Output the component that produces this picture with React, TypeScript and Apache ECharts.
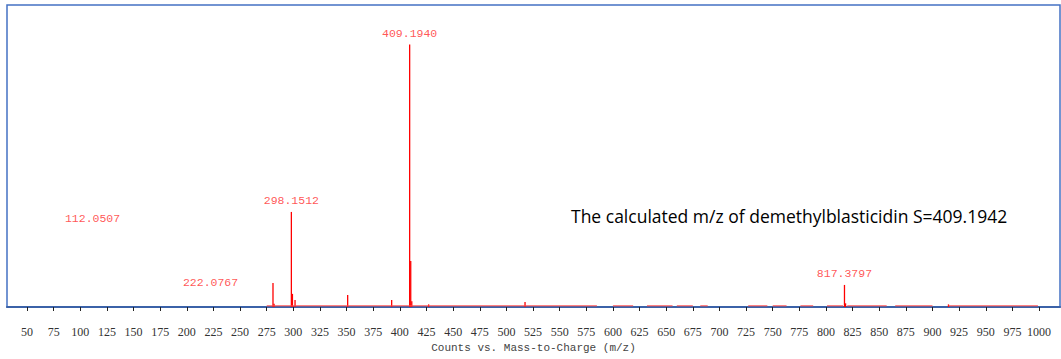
import React, { useEffect, useRef } from "react";
import * as echarts from "echarts";

// m/z range shown
const xRange = [31.2, 1019.7];
const yRange = [0, 115];

// tick labels along m/z axis
const xTicks = [
  50, 75, 100, 125, 150, 175, 200, 225, 250, 275, 300, 325, 350, 375, 400, 425,
  450, 475, 500, 525, 550, 575, 600, 625, 650, 675, 700, 725, 750, 775, 800, 825,
  850, 875, 900, 925, 950, 975, 1000,
];

// peaks: [m/z, relative intensity]
const peaks: [number, number][] = [
  [280.9, 9.1],
  [281.9, 1.2],
  [298.15, 36.2],
  [299.15, 5.0],
  [301.6, 2.7],
  [351.0, 4.6],
  [392.3, 2.7],
  [409.194, 100],
  [410.2, 17.5],
  [411.2, 2.2],
  [427.0, 1.0],
  [517.5, 1.9],
  [817.38, 8.4],
  [818.4, 1.4],
  [915.0, 1.0],
];

// annotated labels: [label position m/z, label anchor intensity, text]
const labelPoints: [number, number, string][] = [
  [111.5, 29.4, "112.0507"],
  [222.3, 5.3, "222.0767"],
  [298.15, 36.2, "298.1512"],
  [409.194, 100, "409.1940"],
  [817.38, 8.4, "817.3797"],
];

// noise floor segments [from m/z, to m/z]
const noiseSegments: [number, number][] = [
  [275, 585],
  [600, 619],
  [632, 656],
  [660, 675],
  [682, 689],
  [727, 745],
  [750, 763],
  [776, 788],
  [801, 816],
  [820, 857],
  [865, 900],
  [915, 999],
];
const noiseLevel = 0.45;

const annotation = "The calculated m/z of demethylblasticidin S=409.1942";
const axisTitle = "Counts vs. Mass-to-Charge (m/z)";

export default function App() {
  const ref = useRef<HTMLDivElement>(null);
  useEffect(() => {
    document.body.style.margin = "0";
    if (!ref.current) return;
    const chart = echarts.init(ref.current, undefined, { renderer: "svg" });
    const noiseData: any[] = [];
    noiseSegments.forEach(([a, b]) => {
      noiseData.push([a, noiseLevel]);
      noiseData.push([b, noiseLevel]);
      noiseData.push("-");
    });
    chart.setOption({
      animation: false,
      grid: {
        left: 7,
        right: 1,
        top: 5,
        bottom: 52,
        show: true,
        borderColor: "#4472C4",
        borderWidth: 1.5,
        backgroundColor: "#ffffff",
      },
      xAxis: {
        type: "value",
        min: xRange[0],
        max: xRange[1],
        name: axisTitle,
        nameLocation: "middle",
        nameGap: 33,
        nameTextStyle: {
          fontFamily: "Liberation Mono",
          fontSize: 11,
          color: "#444",
        },
        axisLine: { show: true, lineStyle: { color: "#3b62a8", width: 2 } },
        axisTick: {
          show: true,
          customValues: xTicks,
          length: 4,
          lineStyle: { color: "#222", width: 1 },
        },
        axisLabel: {
          customValues: xTicks,
          margin: 19,
          fontFamily: "Liberation Serif",
          fontSize: 12,
          color: "#333",
          formatter: (v: number) => String(v),
        },
        splitLine: { show: false },
      },
      yAxis: {
        type: "value",
        min: yRange[0],
        max: yRange[1],
        show: false,
        splitLine: { show: false },
      },
      graphic: [
        {
          type: "text",
          left: 571,
          top: 207,
          style: {
            text: annotation,
            fontFamily: "Open Sans",
            fontSize: 17.5,
            fill: "#000",
          },
        },
      ],
      series: [
        {
          type: "line",
          data: noiseData,
          showSymbol: false,
          symbol: "none",
          connectNulls: false,
          lineStyle: { color: "#ff4a4a", width: 1 },
          silent: true,
        },
        {
          type: "custom",
          data: peaks,
          encode: { x: 0, y: 1 },
          renderItem: (params: any, api: any) => {
            const x = api.value(0);
            const y = api.value(1);
            const p0 = api.coord([x, 0]);
            const p1 = api.coord([x, y]);
            return {
              type: "line",
              shape: { x1: p0[0], y1: p0[1], x2: p1[0], y2: p1[1] },
              style: { stroke: "#ff0000", lineWidth: 1.3 },
            };
          },
        },
        {
          type: "scatter",
          data: labelPoints.map((p) => ({ value: [p[0], p[1]], name: p[2] })),
          symbolSize: 0,
          label: {
            show: true,
            position: "top",
            distance: 5,
            formatter: (p: any) => p.name,
            fontFamily: "Liberation Mono",
            fontSize: 11.5,
            color: "#ff2a2a",
          },
          silent: true,
        },
      ],
    });
    return () => chart.dispose();
  }, []);
  return <div ref={ref} style={{ width: 1061, height: 359 }} />;
}
